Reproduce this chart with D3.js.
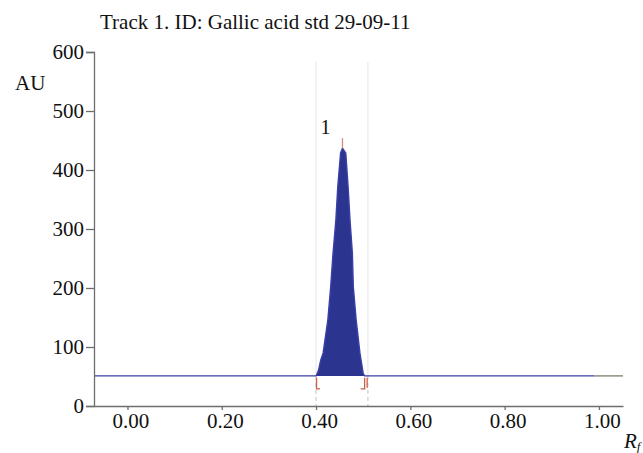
<!DOCTYPE html>
<html>
<head>
<meta charset="utf-8">
<script src="https://cdn.jsdelivr.net/npm/d3@7"></script>
<style>
  body { margin: 0; background: #fff; }
  svg text { font-family: "Liberation Serif", "Times New Roman", Times, "DejaVu Serif", serif; fill: #111; }
</style>
</head>
<body>
<svg width="643" height="453"></svg>
<script>
// densitogram trace (Rf, AU)
const traceRf = [-0.071, 0.400, 0.405, 0.410, 0.415, 0.425, 0.431, 0.436, 0.442, 0.446, 0.452, 0.456,
                 0.463, 0.468, 0.472, 0.477, 0.479, 0.485, 0.493, 0.500, 0.503, 1.051];
const traceAu = [51, 51, 60, 78, 90, 146, 202, 259, 315, 371, 429, 437,
                 429, 371, 315, 259, 202, 146, 90, 55, 51, 51];

const yTicks = [0, 100, 200, 300, 400, 500, 600];
const xTicks = [0, 0.2, 0.4, 0.6, 0.8, 1.0];

// peak 1 integration marks
const peakLabel = '1';
const peakStart = 0.401;
const peakEnd = 0.503;
const peakMax = { rf: 0.456, au: 437 };
const trackLines = [0.400, 0.510];

const font = '"Liberation Serif", "Times New Roman", Times, "DejaVu Serif", serif';
const fs = 21;

const svg = d3.select('svg');

const x = d3.scaleLinear().domain([-0.071, 1.051]).range([94, 623]);
const y = d3.scaleLinear().domain([0, 600]).range([406, 52]);

const trace = traceRf.map((r, i) => ({ rf: r, au: traceAu[i] }));

// title
svg.append('text')
    .attr('x', 100)
    .attr('y', 29)
    .attr('font-family', font)
    .attr('font-size', fs)
    .text('Track 1. ID: Gallic acid std 29-09-11');

// track boundary lines (faint above baseline, dashed below)
trackLines.forEach((r) => {
    svg.append('line')
        .attr('x1', x(r)).attr('x2', x(r))
        .attr('y1', 62).attr('y2', y(51))
        .attr('stroke', '#e4e4e4').attr('stroke-width', 1);
    svg.append('line')
        .attr('x1', x(r)).attr('x2', x(r))
        .attr('y1', y(51)).attr('y2', y(0))
        .attr('stroke', '#b8c4c0').attr('stroke-width', 1)
        .attr('stroke-dasharray', '4,3');
});

// filled peak area
const peakPts = trace.filter((d) => d.rf >= peakStart - 0.002 && d.rf <= peakEnd + 0.001);
svg.append('path')
    .datum(peakPts)
    .attr('fill', '#2b348f')
    .attr('d', d3.area().x((d) => x(d.rf)).y0(y(51)).y1((d) => y(d.au)));

// trace line
svg.append('path')
    .datum(trace.filter((d) => d.rf <= 0.99).concat([{ rf: 0.99, au: 51 }]))
    .attr('fill', 'none')
    .attr('stroke', '#3b3fa8')
    .attr('stroke-width', 1.4)
    .attr('d', d3.line().x((d) => x(d.rf)).y((d) => y(d.au)));

svg.append('line')
    .attr('x1', x(0.99)).attr('x2', x(1.051))
    .attr('y1', y(51)).attr('y2', y(51))
    .attr('stroke', '#707060').attr('stroke-width', 1.2);

// red integration brackets
const red = '#c8604c';
svg.append('path')
    .attr('fill', 'none').attr('stroke', red).attr('stroke-width', 1.3)
    .attr('d', `M${x(peakStart)},${y(48)} V${y(29)} H${x(peakStart) + 3.5}`);
svg.append('path')
    .attr('fill', 'none').attr('stroke', red).attr('stroke-width', 1.3)
    .attr('d', `M${x(peakEnd)},${y(48)} V${y(29)} H${x(peakEnd) - 4}
               M${x(peakEnd) + 2.5},${y(48)} V${y(31)}`);
svg.append('line')
    .attr('x1', x(peakMax.rf)).attr('x2', x(peakMax.rf))
    .attr('y1', y(peakMax.au)).attr('y2', y(peakMax.au + 17))
    .attr('stroke', '#d88a78').attr('stroke-width', 1.3);

svg.append('text')
    .attr('x', x(peakMax.rf) - 22)
    .attr('y', 134)
    .attr('font-family', font)
    .attr('font-size', 20)
    .text(peakLabel);

// axes
const yAxis = svg.append('g')
    .attr('transform', `translate(${x.range()[0]},0)`)
    .call(d3.axisLeft(y).tickValues(yTicks).tickFormat(d3.format('d')).tickSize(8).tickPadding(2));

const xAxis = svg.append('g')
    .attr('transform', `translate(0,${y(0)})`)
    .call(d3.axisBottom(x).tickValues(xTicks).tickFormat(d3.format('.2f')).tickSize(4).tickSizeOuter(0).tickPadding(3));

[yAxis, xAxis].forEach((g) => {
    g.attr('font-family', font);
    g.selectAll('.domain, .tick line').attr('stroke', '#6e6e6e').attr('stroke-width', 1.3);
    g.selectAll('.tick text')
        .attr('font-family', font)
        .attr('font-size', fs)
        .attr('fill', '#111');
});
xAxis.selectAll('.tick text').attr('dx', 3);

// axis labels
svg.append('text')
    .attr('x', 15)
    .attr('y', 90)
    .attr('font-family', font)
    .attr('font-size', fs)
    .text('AU');

const rfLabel = svg.append('text')
    .attr('x', 624)
    .attr('y', 448)
    .attr('font-family', font)
    .attr('font-size', fs);
rfLabel.append('tspan').attr('font-style', 'italic').text('R');
rfLabel.append('tspan').attr('font-style', 'italic').attr('font-size', 13).attr('dy', 3).text('f');
</script>
</body>
</html>
